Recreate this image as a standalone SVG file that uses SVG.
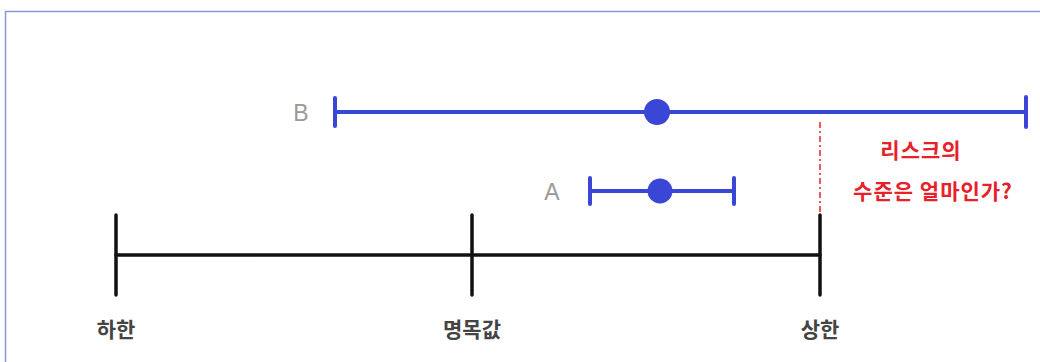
<svg xmlns="http://www.w3.org/2000/svg" width="1040" height="362" viewBox="0 0 1040 362">
<style>
.blue{stroke:#3a46d6;stroke-width:4;fill:none;stroke-linecap:round}
.dot{fill:#3a46d6}
.black{stroke:#111;stroke-width:3.5;fill:none;stroke-linecap:round}
.lbl{font-family:"Noto Sans CJK KR","Noto Sans",sans-serif;font-size:21px;fill:#444;text-anchor:middle;font-weight:bold}
.ab{font-family:"Liberation Sans","Noto Sans",sans-serif;font-size:23px;fill:#9a9a9a;text-anchor:middle}
.red{font-family:"Noto Sans CJK KR","Noto Sans",sans-serif;font-size:21px;fill:#e8202a;text-anchor:middle;font-weight:bold;letter-spacing:1px}
</style>
<rect x="0" y="0" width="1040" height="362" fill="#ffffff"/>
<rect x="5.5" y="11.5" width="1040" height="360" fill="none" stroke="#8f95d8" stroke-width="1.5"/>
<g id="connectors">
<line x1="820" y1="122" x2="820" y2="212" stroke="#e8202a" stroke-width="1.5" stroke-dasharray="6,3,2,3"/>
</g>
<g id="axis">
<line class="black" x1="116" y1="255" x2="820" y2="255"/>
<line class="black" x1="116" y1="215" x2="116" y2="295"/>
<line class="black" x1="472" y1="215" x2="472" y2="295"/>
<line class="black" x1="820" y1="215" x2="820" y2="295"/>
<text class="lbl" x="116" y="337">하한</text>
<text class="lbl" x="472" y="337">명목값</text>
<text class="lbl" x="820" y="337">상한</text>
</g>
<g id="B">
<line class="blue" x1="335" y1="112" x2="1026" y2="112"/>
<line class="blue" x1="335" y1="98" x2="335" y2="126"/>
<line class="blue" x1="1026" y1="97" x2="1026" y2="127"/>
<circle class="dot" cx="657" cy="112" r="13"/>
<text class="ab" x="301" y="121">B</text>
</g>
<g id="A">
<line class="blue" x1="590" y1="191" x2="734" y2="191"/>
<line class="blue" x1="590" y1="178" x2="590" y2="204"/>
<line class="blue" x1="734" y1="178" x2="734" y2="204"/>
<circle class="dot" cx="660" cy="191" r="12.5"/>
<text class="ab" x="552" y="200">A</text>
</g>
<g id="question">
<text class="red" x="921" y="158">리스크의</text>
<text class="red" x="933" y="199">수준은 얼마인가?</text>
</g>
</svg>
